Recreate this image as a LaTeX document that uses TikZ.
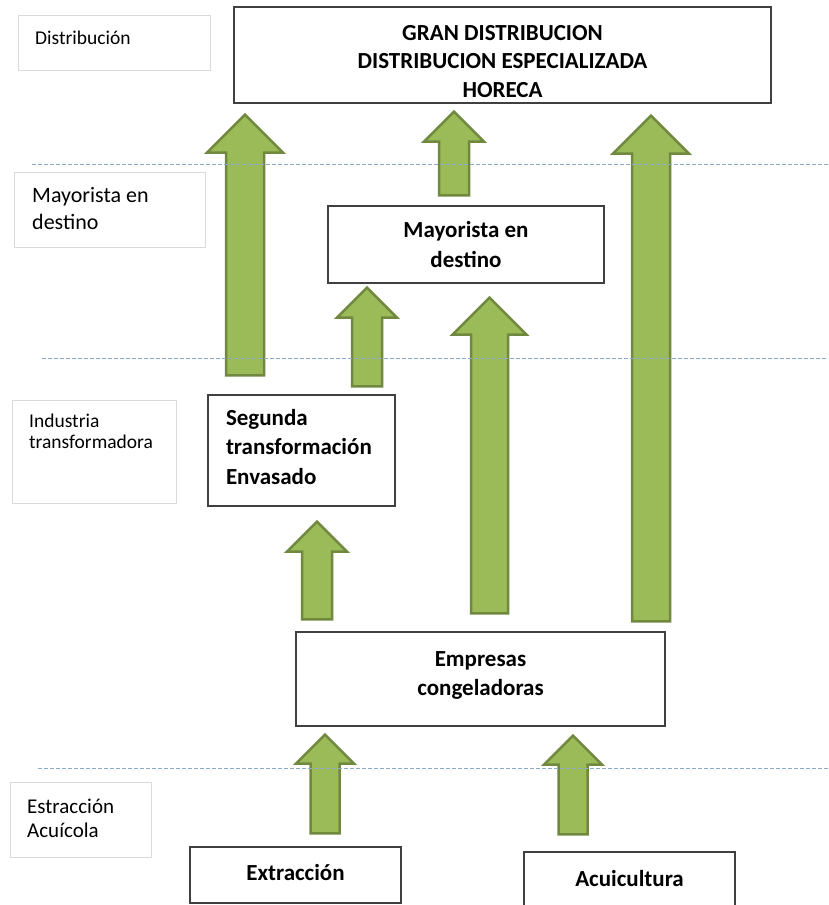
\documentclass[tikz,border=0pt]{standalone}
\usepackage{fontspec}
\setmainfont{Carlito}
\usetikzlibrary{calc}
\definecolor{verde}{HTML}{9BBB59}
\definecolor{verdeosc}{HTML}{71893F}
\definecolor{tinta}{HTML}{404040}
\definecolor{gris}{HTML}{DADADA}
\definecolor{guion}{HTML}{8EAACB}
% block arrow: x, from node, gap, to node, gap, half shaft
\newcommand{\flecha}[6]{%
  \draw[flecha] let \p1=(#2.north), \p2=(#4.south) in
    ({#1pt-#6pt},{\y1+#3pt}) -- ({#1pt-#6pt},{\y2-#5pt-2*#6pt})
    -- ({#1pt-2*#6pt},{\y2-#5pt-2*#6pt}) -- ({#1pt},{\y2-#5pt})
    -- ({#1pt+2*#6pt},{\y2-#5pt-2*#6pt}) -- ({#1pt+#6pt},{\y2-#5pt-2*#6pt})
    -- ({#1pt+#6pt},{\y1+#3pt}) -- cycle;}

\begin{document}
\begin{tikzpicture}[
  x=1pt, y=-1pt,
  caja/.style={draw=tinta, line width=1.4pt, align=center, inner sep=0pt,
               font=\fontsize{23}{29.5}\selectfont\bfseries},
  marco/.style={draw=gris, line width=.9pt, anchor=north west, inner sep=0pt},
  etiq/.style={anchor=north west, align=left, inner sep=0pt},
  flecha/.style={fill=verde, draw=verdeosc, line width=2.5pt},
  sep/.style={draw=guion, line width=1pt, dash pattern=on 4pt off 2pt},
]
\path[fill=white, use as bounding box] (0,0) rectangle (828,905);

% left column
\node[marco, minimum width=192pt, minimum height=55pt]  (mdis) at (18,15)  {};
\node[marco, minimum width=191pt, minimum height=75pt]  (mmay) at (14,172) {};
\node[marco, minimum width=164pt, minimum height=103pt] (mind) at (12,400) {};
\node[marco, minimum width=141pt, minimum height=75pt]  (mest) at (10,782) {};
\node[etiq, font=\fontsize{19.5}{23}\selectfont] (tdis) at (35,31)  {Distribución};
\node[etiq, font=\fontsize{22}{27}\selectfont]   (tmay) at (32,187) {Mayorista en\\destino};
\node[etiq, font=\fontsize{19.5}{21}\selectfont] (tind) at (29,414) {Industria\\transformadora};
\node[etiq, font=\fontsize{21}{23.5}\selectfont] (test) at (27,799) {Estracción\\Acuícola};

% chain
\node[caja, minimum width=537pt, minimum height=96pt, font=\fontsize{23}{28.5}\selectfont\bfseries]
  (dist) at (502.5,55)
  {\rule{0pt}{28pt}GRAN DISTRIBUCION\\DISTRIBUCION ESPECIALIZADA\\HORECA};
\node[caja, minimum width=276pt, minimum height=77pt] (may) at (466,244.5)
  {Mayorista en\\destino};
\node[caja, minimum width=187pt, minimum height=111pt, align=left, text width=151pt]
  (seg) at (301.5,450.5) {Segunda\\transformación\\Envasado\rule[-8pt]{0pt}{0pt}};
\node[caja, minimum width=369pt, minimum height=94pt] (emp) at (480.5,679)
  {Empresas\\congeladoras\rule[-10.5pt]{0pt}{0pt}};
\node[caja, minimum width=211pt, minimum height=56pt] (ext) at (295.5,875)
  {Extracción\rule[-6pt]{0pt}{0pt}};
\node[caja, minimum width=211pt, minimum height=58pt] (acu) at (629.5,881)
  {Acuicultura\rule[-6pt]{0pt}{0pt}};

\flecha{245}{seg}{19}{dist}{11}{19}
\flecha{454}{may}{10}{dist}{8}{15}
\flecha{651}{emp}{10}{dist}{12}{19}
\flecha{367}{seg}{8}{may}{4}{15}
\flecha{489.5}{emp}{18}{may}{14}{18.5}
\flecha{317}{emp}{12}{seg}{15}{15}
\flecha{325}{ext}{13}{emp}{8}{14.5}
\flecha{573}{acu}{17}{emp}{9}{14.5}

% level separators
\draw[sep] (32,164) -- (828,164);
\draw[sep] (42,358) -- (828,358);
\draw[sep] (38,768) -- (828,768);
\end{tikzpicture}
\end{document}
